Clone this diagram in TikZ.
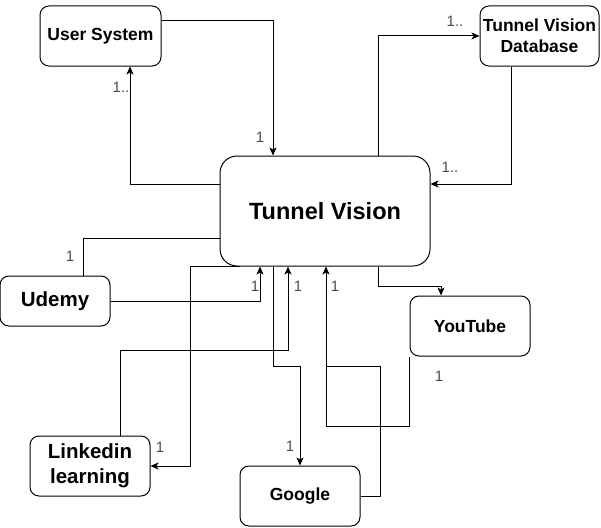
\documentclass[tikz,border=0pt]{standalone}
\usepackage{fontspec}
\setmainfont{Liberation Sans}
\usetikzlibrary{arrows.meta}
\begin{document}
\begin{tikzpicture}[x=1pt,y=-1pt,
  box/.style={draw=black,line width=1pt,rounded corners=9pt,align=center,inner sep=0pt,
    font=\bfseries\fontsize{17.5}{21}\selectfont},
  bigbox/.style={box,font=\bfseries\fontsize{20.5}{25}\selectfont},
  mainbox/.style={box,rounded corners=17pt,font=\bfseries\fontsize{23.5}{28}\selectfont},
  conn/.style={line width=1pt,draw=black},
  arr/.style={conn,-{Stealth[length=8pt,width=7pt,inset=2pt]}},
  lbl/.style={text=black!70,font=\fontsize{15}{18}\selectfont,inner sep=0pt}]
\useasboundingbox (0,0) rectangle (601,527);
\node[box,minimum width=121pt,minimum height=60pt] (us) at (100.5,36) {User System};
\node[box,minimum width=119pt,minimum height=60pt] (db) at (539.5,36) {Tunnel Vision\\Database};
\node[mainbox,minimum width=210pt,minimum height=110pt] (tv) at (325,211) {Tunnel Vision};
\node[bigbox,minimum width=110pt,minimum height=50pt] (ud) at (55,301) {Udemy};
\node[box,minimum width=120pt,minimum height=60pt] (yt) at (470,326) {YouTube};
\node[bigbox,minimum width=120pt,minimum height=60pt] (li) at (90,466) {Linkedin\\learning};
\node[box,minimum width=120pt,minimum height=60pt] (go) at (300,496) {Google};

% connectors
\draw[arr] ([yshift=15pt]us.east) -| ([xshift=-52pt]tv.north);
\draw[arr] ([yshift=27pt]tv.west) -| ([xshift=29.5pt]us.south);
\draw[arr] ([xshift=53pt]tv.north) |- (db.west);
\draw[arr] ([xshift=-28.5pt]db.south) |- ([yshift=27pt]tv.east);
\draw[conn] ([yshift=-27pt]tv.west) -| ([xshift=28pt]ud.north);
\draw[arr] (ud.east) -| ([xshift=-65pt]tv.south);
\draw[arr] ([xshift=30pt]li.north) -- ++(0,-85) -| ([xshift=-37pt]tv.south);
\draw[arr] ([xshift=-85pt]tv.south) -- ++(-50,0) |- (li.east);
\draw[arr] ([xshift=-52pt]tv.south) -- ++(0,100) -| (go.north);
\draw[arr] ([xshift=53pt]tv.south) -- ++(0,20) -| ([xshift=-29pt]yt.north);
\draw[arr] (yt.south west) -- ++(0,70) -| ([xshift=1pt]tv.south);
\draw[conn] (go.east) -- ++(20,0) |- ([xshift=1pt,yshift=-100pt]tv.south);

% labels
\node[lbl] (l1) at (260,137) {1};
\node[lbl] (l2) at (121,87) {1..};
\node[lbl] (l3) at (455,21) {1..};
\node[lbl] (l4) at (450,167) {1..};
\node[lbl] (l5) at (70,256) {1};
\node[lbl] (l6) at (255,286) {1};
\node[lbl] (l7) at (298,286) {1};
\node[lbl] (l8) at (335,286) {1};
\node[lbl] (l9) at (160,447) {1};
\node[lbl] (l10) at (290,446) {1};
\node[lbl] (l11) at (439,376) {1};
\end{tikzpicture}
\end{document}
